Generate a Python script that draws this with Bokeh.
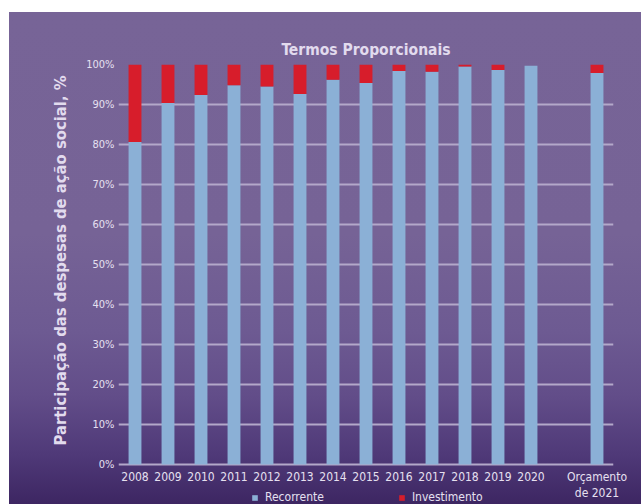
from bokeh.plotting import figure
from bokeh.models import FactorRange, Range1d, FixedTicker, ColumnDataSource, Title
from bokeh.embed import file_html
from bokeh.resources import INLINE

# ---- data ----
categories = ["2008", "2009", "2010", "2011", "2012", "2013", "2014", "2015",
              "2016", "2017", "2018", "2019", "2020", "Orçamento\nde 2021"]
axis_factors = categories[:13] + [" "] + categories[13:]
recorrente = [80.6, 90.4, 92.4, 94.8, 94.5, 92.6, 96.2, 95.4, 98.4, 98.2, 99.5, 98.6, 99.7, 97.9]
investimento = [19.4, 9.6, 7.6, 5.2, 5.5, 7.4, 3.8, 4.6, 1.6, 1.8, 0.5, 1.4, 0.0, 2.1]
y_ticks = [0, 10, 20, 30, 40, 50, 60, 70, 80, 90, 100]
series_names = ["Recorrente", "Investimento"]
series_colors = ["#8bb0d6", "#d71d2b"]

FONT = "DejaVu Sans Condensed"
TXT = "#e6e0f0"

source = ColumnDataSource(dict(cat=categories, Recorrente=recorrente, Investimento=investimento))

# frame runs to the bottom edge so the legend below the x labels stays visible;
# the extra -10 keeps 0% at the same place as in the reference
p = figure(width=641, height=504, x_range=FactorRange(*axis_factors, range_padding=0),
           y_range=Range1d(-10, 100), output_backend="svg", toolbar_location=None,
           min_border_left=118, min_border_right=28, min_border_top=64, min_border_bottom=0,
           title="Termos Proporcionais")

p.background_fill_color = None
p.border_fill_color = None
p.outline_line_color = None
p.styles = {
    "background-image": "linear-gradient(to bottom, #776497 0%, #766396 45%, #6d5a92 65%, "
                        "#624d89 78%, #4f3978 90%, #3d2662 100%)",
    "background-size": "calc(100% - 9px) calc(100% - 12px)",
    "background-position": "9px 12px",
    "background-repeat": "no-repeat",
    "background-color": "#ffffff",
}

renderers = p.vbar_stack(series_names, x="cat", width=0.39, color=series_colors,
                         line_color=None, source=source, legend_label=series_names)

# title
p.title.align = "center"
p.title.text_font = FONT
p.title.text_font_size = "15.5px"
p.title.text_font_style = "bold"
p.title.text_color = "#e2dbee"
p.title.standoff = 12

# grid
p.xgrid.grid_line_color = None
p.ygrid.grid_line_color = "#b3a8c9"
p.ygrid.grid_line_width = 2
p.ygrid.ticker = FixedTicker(ticks=y_ticks)

# y axis
p.yaxis.ticker = FixedTicker(ticks=y_ticks)
p.yaxis.major_label_overrides = {t: f"{t}%" for t in y_ticks}
p.yaxis.axis_line_color = None
p.yaxis.major_tick_line_color = None
p.yaxis.minor_tick_line_color = None
p.yaxis.major_tick_out = 0
p.yaxis.major_label_standoff = 4
p.yaxis.major_label_text_font = FONT
p.yaxis.major_label_text_font_size = "11px"
p.yaxis.major_label_text_color = TXT

ylab = Title(text="Participação das despesas de ação social, %", align="left", offset=59,
             text_font=FONT, text_font_size="16.5px", text_font_style="bold",
             text_color="#e2dbee", standoff=27)
p.add_layout(ylab, "left")

# x axis: labels pulled up so that they sit just under 0%
p.xaxis.axis_line_color = None
p.xaxis.major_tick_line_color = None
p.xaxis.major_tick_out = 0
p.xaxis.major_tick_in = 0
p.xaxis.major_label_standoff = -35
p.xaxis.major_label_text_font = FONT
p.xaxis.major_label_text_font_size = "12px"
p.xaxis.major_label_text_color = TXT

# legend
lg = p.legend[0]
lg.location = (133, 0)
lg.orientation = "horizontal"
lg.background_fill_alpha = 0
lg.border_line_color = None
lg.padding = 0
lg.margin = 0
lg.spacing = 74
lg.glyph_width = 7
lg.glyph_height = 7
lg.label_standoff = 7
lg.label_height = 13
lg.label_text_font = FONT
lg.label_text_font_size = "12px"
lg.label_text_color = TXT

open("out.html", "w").write(file_html(p, INLINE))
